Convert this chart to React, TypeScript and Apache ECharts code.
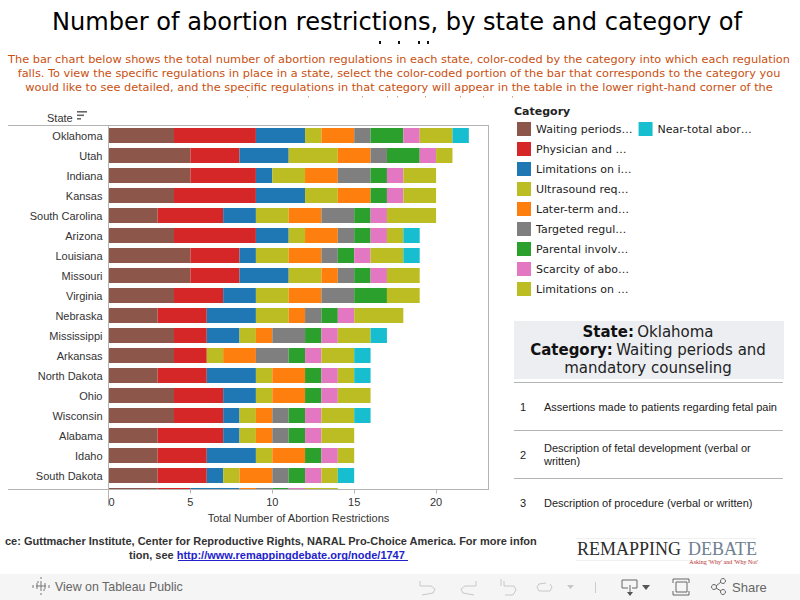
import React, { useEffect, useRef } from "react";
import * as echarts from "echarts";

const states = ["Oklahoma","Utah","Indiana","Kansas","South Carolina","Arizona","Louisiana","Missouri","Virginia","Nebraska","Mississippi","Arkansas","North Dakota","Ohio","Wisconsin","Alabama","Idaho","South Dakota",""];
const categories = ["Waiting periods…","Physician and …","Limitations on i…","Ultrasound req…","Later-term and…","Targeted regul…","Parental involv…","Scarcity of abo…","Limitations on …","Near-total abor…"];
const colors = ["#8c564b","#d62728","#1f77b4","#bcbd22","#ff7f0e","#7f7f7f","#2ca02c","#e377c2","#bcbd22","#17becf"];
const waiting = [4,5,5,4,3,4,5,5,4,3,4,4,3,4,4,3,3,3,3];
const physician = [5,3,4,5,4,5,3,3,3,3,2,2,3,3,3,4,3,3,2];
const limitsInsurance = [3,3,1,3,2,2,1,3,2,3,2,0,3,2,1,1,3,1,3];
const ultrasound = [1,3,2,2,2,1,2,2,2,2,1,1,1,1,1,1,1,1,0];
const laterTerm = [2,2,2,2,2,2,2,1,2,1,1,2,2,2,1,1,2,2,1];
const targeted = [1,1,2,0,2,1,1,1,2,1,2,2,0,0,1,1,0,1,1];
const parental = [2,2,1,1,1,1,1,1,2,1,1,1,1,1,1,1,1,1,1];
const scarcity = [1,1,1,1,1,1,1,1,0,1,1,1,1,1,1,1,1,1,1];
const limitsOther = [2,1,2,2,3,1,2,2,2,3,2,2,1,2,2,2,1,1,2];
const nearTotal = [1,0,0,0,0,1,1,0,0,0,1,1,1,0,1,0,0,1,0];
const seriesValues = [waiting,physician,limitsInsurance,ultrasound,laterTerm,targeted,parental,scarcity,limitsOther,nearTotal];
const xTicks = [0,5,10,15,20];
const subtitleLines = [
  "The bar chart below shows the total number of abortion regulations in each state, color-coded by the category into which each regulation",
  "falls. To view the specific regulations in place in a state, select the color-coded portion of the bar that corresponds to the category you",
  "would like to see detailed, and the specific regulations in that category will appear in the table in the lower right-hand corner of the",
];
const titleTips = [379,398,418,427];
const subtitleTips = [247,308,362,387,397,425,460,483,512];

const SANS = "'Liberation Sans', Arial, sans-serif";
const DEJAVU = "'DejaVu Sans', Verdana, sans-serif";
const SERIF = "'Liberation Serif', 'DejaVu Serif', serif";
const LINE = "#b4b4b4";

function hLine(x1: number, x2: number, y: number, stroke = LINE, z = 6) {
  return { type: "line", z, silent: true, shape: { x1, y1: y, x2, y2: y }, style: { stroke, lineWidth: 1 } };
}
function seg(x1: number, y1: number, x2: number, y2: number, stroke: string, lineWidth = 1) {
  return { type: "line", z: 8, silent: true, shape: { x1, y1, x2, y2 }, style: { stroke, lineWidth } };
}
function poly(points: number[][], stroke: string, lineWidth = 1) {
  return { type: "polyline", z: 8, silent: true, shape: { points }, style: { stroke, lineWidth, fill: "none" } };
}
function label(text: string, x: number, y: number, font: string, fill: string, align = "left", z = 8) {
  return { type: "text", z, silent: true, x, y, style: { text, font, fill, align, verticalAlign: "middle" } };
}

function buildGraphic() {
  const g: any[] = [];
  // Title; its second line is cut off in the embed, so only the ascender tips show
  g.push(label("Number of abortion restrictions, by state and category of", 397, 22, `24.1px ${DEJAVU}`, "#000", "center"));
  titleTips.forEach((x) => g.push({ type: "rect", z: 8, silent: true, shape: { x, y: 41, width: 2, height: 3 }, style: { fill: "#111" } }));
  // Orange intro
  subtitleLines.forEach((t, i) => g.push(label(t, 399, 59 + i * 14, `11.33px ${DEJAVU}`, "#c9500f", "center")));
  subtitleTips.forEach((x) => g.push({ type: "rect", z: 8, silent: true, shape: { x, y: 96, width: 1, height: 1.5 }, style: { fill: "#dc9a70" } }));
  // State header and sort glyph
  g.push(label("State", 47, 118, `11px ${SANS}`, "#333"));
  g.push({ type: "rect", z: 8, silent: true, shape: { x: 77, y: 111, width: 10, height: 1.6 }, style: { fill: "#666" } });
  g.push({ type: "rect", z: 8, silent: true, shape: { x: 77, y: 114.5, width: 7, height: 1.6 }, style: { fill: "#666" } });
  g.push({ type: "rect", z: 8, silent: true, shape: { x: 77, y: 118, width: 4, height: 1.6 }, style: { fill: "#666" } });
  // Frame
  g.push(hLine(8, 488, 125.5));
  g.push(hLine(8, 488, 489.5));
  g.push({ type: "rect", z: 3, silent: true, shape: { x: 100, y: 490, width: 395, height: 17 }, style: { fill: "#fff" } });
  g.push({ type: "line", z: 6, silent: true, shape: { x1: 488.5, y1: 125, x2: 488.5, y2: 490 }, style: { stroke: LINE, lineWidth: 1 } });
  g.push(label("Category", 514, 111, `bold 11px ${DEJAVU}`, "#222"));
  // Detail table
  g.push({ type: "rect", z: 5, silent: true, shape: { x: 514, y: 321, width: 270, height: 58 }, style: { fill: "#eceef2" } });
  g.push({
    type: "text", z: 8, silent: true, x: 648, y: 350,
    style: {
      text: "{b|State:} {n|Oklahoma}\n{b|Category:} {n|Waiting periods and}\n{n|mandatory counseling}",
      align: "center", verticalAlign: "middle", fill: "#111",
      rich: { b: { font: `bold 15px ${DEJAVU}`, lineHeight: 18, fill: "#111" }, n: { font: `15px ${DEJAVU}`, lineHeight: 18, fill: "#222" } },
    },
  });
  g.push(hLine(514, 783, 382.5));
  g.push(hLine(514, 783, 430.5));
  g.push(hLine(514, 783, 478.5));
  const row = `11px ${SANS}`;
  g.push(label("1", 520, 406.5, row, "#222"));
  g.push(label("Assertions made to patients regarding fetal pain", 544, 406.5, row, "#222"));
  g.push(label("2", 520, 454.5, row, "#222"));
  g.push(label("Description of fetal development (verbal or", 544, 447.5, row, "#222"));
  g.push(label("written)", 544, 461, row, "#222"));
  g.push(label("3", 520, 502.5, row, "#222"));
  g.push(label("Description of procedure (verbal or written)", 544, 502.5, row, "#222"));
  // Footer source, cut off on both sides as in the embed
  g.push(label("ce: Guttmacher Institute, Center for Reproductive Rights, NARAL Pro-Choice America. For more infon", 5, 541, `bold 11px ${SANS}`, "#333"));
  g.push({
    type: "text", z: 8, silent: true, x: 129, y: 555,
    style: { text: "tion, see {l|http://www.remappingdebate.org/node/1747}", font: `bold 11px ${SANS}`, fill: "#333", verticalAlign: "middle", rich: { l: { font: `bold 11px ${SANS}`, fill: "#2222cc" } } },
  });
  g.push(hLine(178, 408, 560.5, "#2222cc", 8));
  // Logo
  g.push(hLine(576, 757, 538.5, "#f0f0f0"));
  g.push(hLine(576, 690, 560.5, "#f0f0f0"));
  g.push(label("REMAPPING", 577, 549, `18px ${SERIF}`, "#2c2c2c"));
  g.push(label("DEBATE", 688, 549, `18px ${SERIF}`, "#6e8090"));
  g.push(label("Asking 'Why' and 'Why Not'", 758, 561.5, `6px ${SERIF}`, "#b03030", "right"));
  // Toolbar
  g.push({ type: "rect", z: 7, silent: true, shape: { x: 0, y: 574, width: 800, height: 26 }, style: { fill: "#f5f5f5" } });
  [[41,581,41,591],[36,586,46,586],[37,583,37,589],[45,583,45,589],[33,585,33,588],[49,585,49,588],[40,578,42,578],[40,594,42,594],[38,581,38,583],[44,589,44,591]].forEach((s) => g.push(seg(s[0], s[1], s[2], s[3], "#777")));
  g.push(label("View on Tableau Public", 55, 587, `12.4px ${SANS}`, "#666"));
  const off = "#c8c8c8";
  g.push(poly([[420,581],[420,586],[431,586],[435,589],[433,593],[422,595]], off));
  g.push(poly([[476,581],[476,586],[465,586],[461,589],[463,593],[474,595]], off));
  g.push(poly([[501,579],[501,586]], off));
  g.push(poly([[504,581],[504,586],[514,586],[516,590],[513,595],[505,595]], off));
  g.push(poly([[546,583],[539,584],[537,587],[539,591],[550,591],[552,587],[550,584]], off));
  g.push({ type: "polygon", z: 8, silent: true, shape: { points: [[567,585],[574,585],[570.5,589]] }, style: { fill: off } });
  g.push(seg(595.5, 582, 595.5, 593, "#ccc"));
  g.push(poly([[628,588],[622,588],[622,580],[637,580],[637,588],[632,588]], "#666"));
  g.push(seg(630, 585, 630, 595, "#666"));
  g.push({ type: "polygon", z: 8, silent: true, shape: { points: [[627,592],[633,592],[630,596]] }, style: { fill: "#555" } });
  g.push({ type: "polygon", z: 8, silent: true, shape: { points: [[642,585],[650,585],[646,590]] }, style: { fill: "#555" } });
  g.push({ type: "rect", z: 8, silent: true, shape: { x: 676, y: 582, width: 11, height: 10 }, style: { fill: "none", stroke: "#666" } });
  g.push(poly([[673,583],[673,579],[689,579],[689,583]], "#666"));
  g.push(poly([[673,591],[673,595],[689,595],[689,591]], "#666"));
  g.push({ type: "circle", z: 8, silent: true, shape: { cx: 714, cy: 587, r: 2.5 }, style: { fill: "none", stroke: "#666" } });
  g.push({ type: "circle", z: 8, silent: true, shape: { cx: 723, cy: 581, r: 2.5 }, style: { fill: "none", stroke: "#666" } });
  g.push({ type: "circle", z: 8, silent: true, shape: { cx: 723, cy: 592, r: 2.5 }, style: { fill: "none", stroke: "#666" } });
  g.push(seg(716, 586, 721, 582, "#666"));
  g.push(seg(716, 588, 721, 591, "#666"));
  g.push(label("Share", 732, 587, `13px ${SANS}`, "#666"));
  return g;
}

export default function App() {
  const ref = useRef<HTMLDivElement>(null);
  useEffect(() => {
    const chart = echarts.init(ref.current!, undefined, { renderer: "svg" });
    chart.setOption({
      animation: false,
      backgroundColor: "#fff",
      textStyle: { fontFamily: SANS },
      grid: { left: 108.5, top: 125.5, width: 380, height: 380 },
      legend: {
        orient: "vertical", left: 517, top: 122, height: 182,
        itemWidth: 14, itemHeight: 14, itemGap: 6, padding: 0,
        icon: "rect", selectedMode: false,
        data: categories,
        textStyle: { fontFamily: DEJAVU, fontSize: 11, color: "#222", width: 95 },
      },
      xAxis: {
        type: "value", min: 0, max: 23.2, interval: 5, offset: -16, z: 6,
        axisLine: { show: false },
        axisTick: { show: true, length: 4, lineStyle: { color: LINE }, customValues: xTicks },
        splitLine: { show: false },
        axisLabel: { fontFamily: SANS, fontSize: 11, color: "#333", margin: 7, customValues: xTicks, alignMinLabel: "left" },
        name: "Total Number of Abortion Restrictions", nameLocation: "middle", nameGap: 23,
        nameTextStyle: { fontFamily: SANS, fontSize: 11, color: "#333" },
      },
      yAxis: {
        type: "category", inverse: true, data: states, z: 6,
        axisLine: { show: true, lineStyle: { color: LINE } },
        axisTick: { show: false },
        axisLabel: { fontFamily: SANS, fontSize: 11, color: "#333", margin: 6, padding: [0, 0, 2, 0] },
      },
      series: categories.map((name, i) => ({
        name, type: "bar", stack: "total", barWidth: 15,
        itemStyle: { color: colors[i] },
        emphasis: { disabled: true },
        data: seriesValues[i],
      })),
      graphic: buildGraphic(),
    });
    return () => chart.dispose();
  }, []);
  return <div ref={ref} style={{ position: "fixed", left: 0, top: 0, width: 800, height: 600 }} />;
}
